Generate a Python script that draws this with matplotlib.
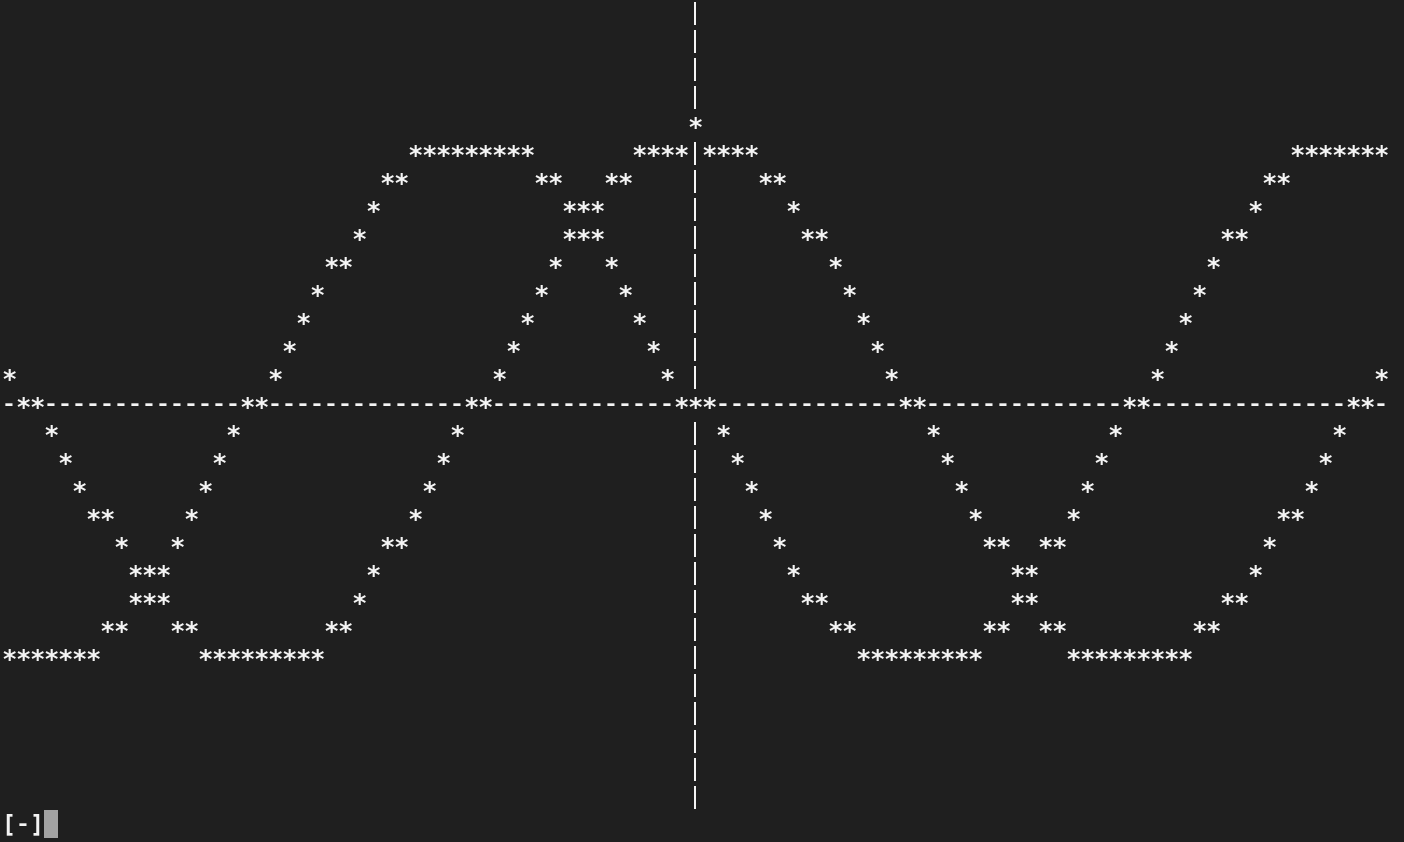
"""
Terminal-style ASCII plot of two waves drawn with '*' on a character grid.
"""

import numpy as np
import matplotlib
matplotlib.use("Agg")
import matplotlib.pyplot as plt
from matplotlib.patches import Rectangle
from matplotlib.textpath import TextPath
from matplotlib.font_manager import FontProperties

# level of each curve per column (0 = x axis row, + is up)
cos_levels = [1, 0, 0, -1, -2, -3, -4, -4, -5, -6, -7, -7, -8, -8,
              -9, -9, -9, -9, -9, -9, -9, -9, -9,
              -8, -8, -7, -6, -5, -5, -4, -3, -2, -1, 0, 0,
              1, 2, 3, 4, 5, 6, 6, 7, 8, 8,
              9, 9, 9, 9, 10, 9, 9, 9, 9,
              8, 8, 7, 6, 6, 5, 4, 3, 2, 1, 0, 0,
              -1, -2, -3, -4, -5, -5, -6, -7, -8, -8,
              -9, -9, -9, -9, -9, -9, -9, -9, -9,
              -8, -8, -7, -7, -6, -5, -4, -4, -3, -2, -1, 0, 0, 1]

neg_sin_levels = [-9, -9, -9, -9, -9, -9, -9,
                  -8, -8, -7, -6, -6, -5, -4, -3, -2, -1, 0, 0,
                  1, 2, 3, 4, 5, 5, 6, 7, 8, 8,
                  9, 9, 9, 9, 9, 9, 9, 9, 9,
                  8, 8, 7, 7, 6, 5, 4, 3, 2, 1, 0,
                  0, 0, -1, -2, -3, -4, -5, -6, -7, -7, -8, -8,
                  -9, -9, -9, -9, -9, -9, -9, -9, -9,
                  -8, -8, -7, -6, -5, -5, -4, -3, -2, -1, 0, 0,
                  1, 2, 3, 4, 5, 6, 6, 7, 8, 8,
                  9, 9, 9, 9, 9, 9, 9]

n_rows = 29          # rows of the plot area
axis_row = 14        # row of the x axis
axis_col = 49        # column of the y axis
prompt = "[-]"

# terminal look
BG = "#1f1f1f"
FG = "#f4f4f4"
CURSOR = "#a3a3a3"
CELL_W = 14.0        # px
CELL_H = 28.0        # px
X_SHIFT = 1.7        # px, grid offset from left edge
FONT_PX = CELL_W / 0.602
font = FontProperties(family="DejaVu Sans Mono", weight="bold")
thin = FontProperties(family="DejaVu Sans Mono")


def put(ax, col, row, ch, prop=font, lift=2.0, scale=1.0):
    # row centre is at row + 0.5 (y axis points down); lift in px
    size = FONT_PX * scale
    ext = TextPath((0, 0), ch, size=size, prop=prop).get_extents()
    y = row + 0.5 + ((ext.y0 + ext.y1) / 2 - lift) / CELL_H
    ax.text(col + 0.5, y, ch, ha="center", va="baseline", color=FG,
            fontsize=size * 72 / 100, fontproperties=prop)


assert len(cos_levels) == len(neg_sin_levels)
n_cols = len(cos_levels)
cols = np.arange(n_cols)

# build the character grid: axes first, curves on top
grid = {}
for c in cols:
    grid[(axis_row, c)] = "-"
for r in range(n_rows):
    grid[(r, axis_col)] = "|"
for levels in (cos_levels, neg_sin_levels):
    for c, lev in zip(cols, levels):
        grid[(axis_row - lev, c)] = "*"

fig = plt.figure(figsize=(14.04, 8.42), dpi=100, facecolor=BG)
ax = fig.add_axes([0, 0, 1, 1])
ax.set_facecolor(BG)
ax.set_xlim(-X_SHIFT / CELL_W, (1404 - X_SHIFT) / CELL_W)
ax.set_ylim(842 / CELL_H, 0)
ax.axis("off")

for (r, c), ch in grid.items():
    if ch == "|":
        put(ax, c, r, ch, prop=thin, lift=0.0)
    elif ch == "-":
        put(ax, c, r, ch)
    else:
        put(ax, c, r, ch, scale=1.1)

# shell prompt and cursor under the plot
for i, ch in enumerate(prompt):
    put(ax, i, n_rows, ch)
ax.add_patch(Rectangle((len(prompt), n_rows - 2 / CELL_H), 1, 1,
                       facecolor=CURSOR, edgecolor="none"))

fig.savefig("out.png", dpi=100, facecolor=BG)
plt.close(fig)
